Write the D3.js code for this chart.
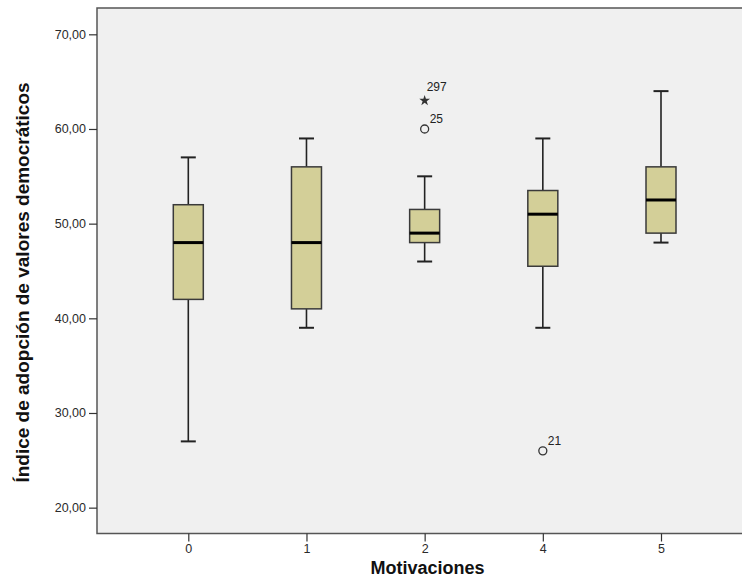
<!DOCTYPE html>
<html><head><meta charset="utf-8">
<script src="https://cdn.jsdelivr.net/npm/d3@7"></script>
<style>body{margin:0;background:#fff}svg{display:block}</style>
</head><body>
<script>
const categories = ["0", "1", "2", "4", "5"];
const whiskerLow  = [27, 39, 46, 39, 48];
const q1          = [42, 41, 48, 45.5, 49];
const medians     = [48, 48, 49, 51, 52.5];
const q3          = [52, 56, 51.5, 53.5, 56];
const whiskerHigh = [57, 59, 55, 59, 64];
const outlierCat   = ["2", "2", "4"];
const outlierVal   = [63, 60, 26];
const outlierLabel = ["297", "25", "21"];
const outlierType  = ["star", "circle", "circle"];
const yTicks = [20, 30, 40, 50, 60, 70];
const yTitle = "Índice de adopción de valores democráticos";
const xTitle = "Motivaciones";

const W = 742, H = 583;
const L = 97, T = 8, B = 533.5, R = 752;
const svg = d3.select("body").append("svg").attr("width", W).attr("height", H);

const y = d3.scaleLinear().domain([17.27, 72.78]).range([B, T]);
const x = d3.scalePoint().domain(categories).range([188.3, 661]);

svg.append("rect").attr("x", L).attr("y", T).attr("width", R - L).attr("height", B - T)
  .attr("fill", "#f0f0f0").attr("stroke", "#555").attr("stroke-width", 1.5);

const fmt = d => d3.format(".2f")(d).replace(".", ",");
const yAxis = svg.append("g").attr("transform", `translate(${L},0)`)
  .call(d3.axisLeft(y).tickValues(yTicks).tickFormat(fmt).tickSize(8).tickPadding(3));
yAxis.select(".domain").remove();
yAxis.selectAll("line").attr("stroke", "#333").attr("stroke-width", 1.2);
yAxis.selectAll("text").attr("font-family", "Liberation Sans, Arial, sans-serif")
  .attr("font-size", 12.5).attr("fill", "#2a2a2a");

const xAxis = svg.append("g").attr("transform", `translate(0,${B})`)
  .call(d3.axisBottom(x).tickSize(8).tickPadding(3));
xAxis.select(".domain").remove();
xAxis.selectAll("line").attr("stroke", "#333").attr("stroke-width", 1.2);
xAxis.selectAll("text").attr("font-family", "Liberation Sans, Arial, sans-serif")
  .attr("font-size", 12.5).attr("fill", "#2a2a2a");

const data = categories.map((c, i) => ({c, lo: whiskerLow[i], q1: q1[i], med: medians[i], q3: q3[i], hi: whiskerHigh[i]}));
const bw = 30, cw = 15;
const g = svg.append("g");
data.forEach(d => {
  const cx = x(d.c);
  g.append("line").attr("x1", cx).attr("x2", cx).attr("y1", y(d.hi)).attr("y2", y(d.q3)).attr("stroke", "#222").attr("stroke-width", 1.6);
  g.append("line").attr("x1", cx).attr("x2", cx).attr("y1", y(d.q1)).attr("y2", y(d.lo)).attr("stroke", "#222").attr("stroke-width", 1.6);
  g.append("line").attr("x1", cx - cw/2).attr("x2", cx + cw/2).attr("y1", y(d.hi)).attr("y2", y(d.hi)).attr("stroke", "#222").attr("stroke-width", 2);
  g.append("line").attr("x1", cx - cw/2).attr("x2", cx + cw/2).attr("y1", y(d.lo)).attr("y2", y(d.lo)).attr("stroke", "#222").attr("stroke-width", 2);
  g.append("rect").attr("x", cx - bw/2).attr("y", y(d.q3)).attr("width", bw).attr("height", y(d.q1) - y(d.q3))
    .attr("fill", "#d3cf98").attr("stroke", "#3a3a3a").attr("stroke-width", 1.5);
  g.append("line").attr("x1", cx - bw/2).attr("x2", cx + bw/2).attr("y1", y(d.med)).attr("y2", y(d.med)).attr("stroke", "#000").attr("stroke-width", 3);
});

outlierVal.forEach((v, i) => {
  const cx = x(outlierCat[i]), cy = y(v);
  if (outlierType[i] === "circle") {
    g.append("circle").attr("cx", cx).attr("cy", cy).attr("r", 4).attr("fill", "none").attr("stroke", "#333").attr("stroke-width", 1.3);
    g.append("text").attr("x", cx + 5).attr("y", cy - 6).text(outlierLabel[i])
      .attr("font-family", "Liberation Sans, Arial, sans-serif").attr("font-size", 12).attr("fill", "#222");
  } else {
    g.append("path").attr("transform", `translate(${cx},${cy})`)
      .attr("d", d3.symbol(d3.symbolStar, 36)()).attr("fill", "#333");
    g.append("text").attr("x", cx + 2).attr("y", cy - 10).text(outlierLabel[i])
      .attr("font-family", "Liberation Sans, Arial, sans-serif").attr("font-size", 12).attr("fill", "#222");
  }
});

svg.append("text").attr("transform", `translate(29,282.5) rotate(-90)`).attr("text-anchor", "middle")
  .attr("font-family", "Liberation Sans, Arial, sans-serif").attr("font-size", 19).attr("font-weight", "bold")
  .attr("fill", "#111").text(yTitle);
svg.append("text").attr("x", 427.5).attr("y", 574).attr("text-anchor", "middle")
  .attr("font-family", "Liberation Sans, Arial, sans-serif").attr("font-size", 18).attr("font-weight", "bold")
  .attr("fill", "#111").text(xTitle);
</script>
</body></html>
